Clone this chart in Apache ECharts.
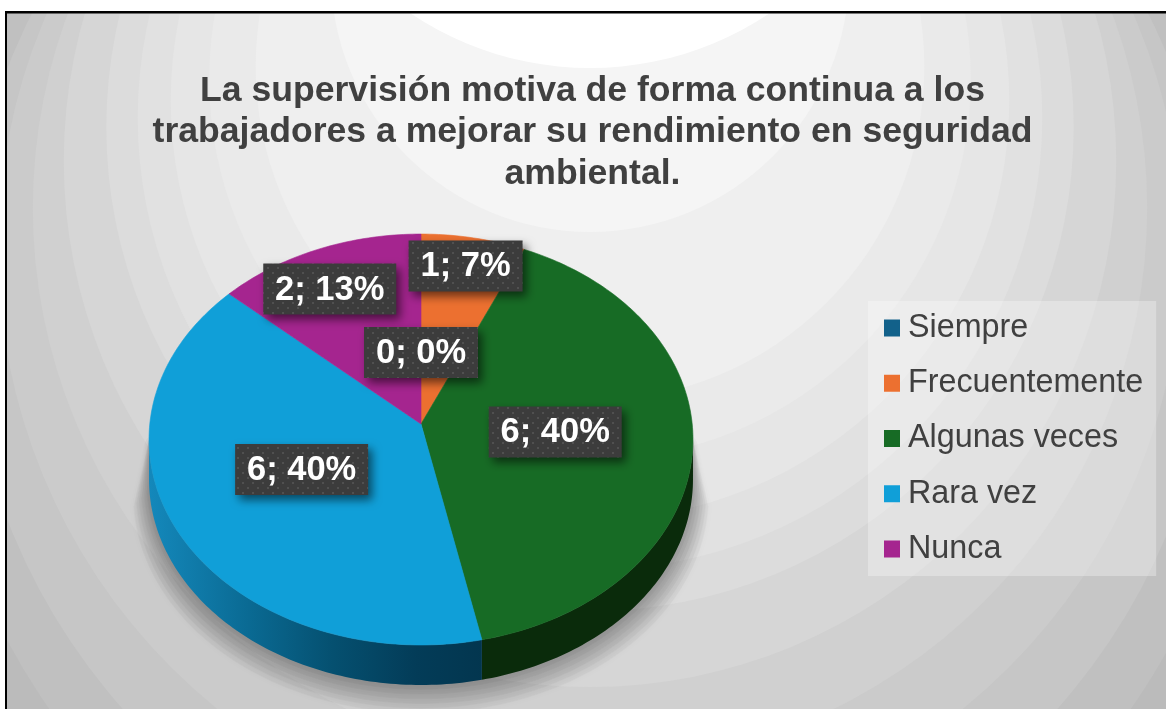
<!DOCTYPE html>
<html>
<head>
<meta charset="utf-8">
<style>html,body{margin:0;padding:0;background:#fff}#c{width:1166px;height:709px}</style>
<script src="https://cdn.jsdelivr.net/npm/echarts@6/dist/echarts.min.js"></script>
</head>
<body>
<div id="c"></div>
<script>
// ---- data ----
var categories = ['Siempre', 'Frecuentemente', 'Algunas veces', 'Rara vez', 'Nunca'];
var values = [0, 1, 6, 6, 2];
var chartTitle = 'La supervisión motiva de forma continua a los\ntrabajadores a mejorar su rendimiento en seguridad\nambiental.';
var sliceColors = ['#12618a', '#ec7030', '#176b25', '#109fd8', '#a5258f'];
var labelRadius = [0.36, 0.84, 0.495, 0.485, 0.78];
var labelTurn = [0, 0, -1.5, 3.2, -3];

// ---- tilted pie geometry (perspective projection of a flat disc) ----
var CX = 421, CY = 424, RX = 271.2, RY = 204.3, PERSP = 0.0755, DEPTH = 40;
var total = values.reduce(function (a, b) { return a + b; }, 0);
function project(deg, r) {
  var t = deg * Math.PI / 180, u = Math.sin(t) * r, v = Math.cos(t) * r, w = 1 + PERSP * v;
  return [CX + RX * u / w, CY - RY * v / w];
}
function sliceStart(i) {
  var s = 0;
  for (var k = 0; k < i; k++) s += values[k];
  return s / total * 360;
}
function rim(a0, a1, dy, r) {
  var pts = [], n = Math.max(1, Math.ceil(Math.abs(a1 - a0)));
  for (var i = 0; i <= n; i++) {
    var p = project(a0 + (a1 - a0) * i / n, r || 1);
    pts.push([p[0], p[1] + (dy || 0)]);
  }
  return pts;
}
var EDGE_R = Math.acos(-PERSP) * 180 / Math.PI, EDGE_L = 360 - EDGE_R;

var wallFills = {
  2: '#0a2b0b',
  3: new echarts.graphic.LinearGradient(149, 0, 483, 0, [
    { offset: 0, color: '#1488bb' }, { offset: 0.3, color: '#0a6a93' },
    { offset: 0.55, color: '#055070' }, { offset: 0.8, color: '#033c58' }, { offset: 1, color: '#03364f' }
  ], true)
};

function renderSlice(i) {
  return function (params, api) {
    var v = api.value(0), a0 = sliceStart(i), a1 = a0 + v / total * 360;
    if (!v) return { type: 'group', children: [] };
    var kids = [];
    var w0 = Math.max(a0, EDGE_R), w1 = Math.min(a1, EDGE_L);
    if (w1 > w0) {
      var top = rim(w0, w1, 0), bottom = rim(w1, w0, DEPTH);
      kids.push({ type: 'polygon', shape: { points: top.concat(bottom) },
        style: { fill: wallFills[i] || sliceColors[i] } });
    }
    kids.push({ type: 'polygon', shape: { points: [project(0, 0)].concat(rim(a0, a1, 0)) },
      style: { fill: sliceColors[i], stroke: sliceColors[i], lineWidth: 0.6 } });
    return { type: 'group', children: kids };
  };
}

// label plate texture
var tile = document.createElement('canvas');
tile.width = 10; tile.height = 10;
(function () {
  var g = tile.getContext('2d');
  g.fillStyle = '#3c3c3c'; g.fillRect(0, 0, 10, 10);
  g.fillStyle = '#505050';
  g.fillRect(2, 2, 2, 2); g.fillRect(7, 7, 2, 2);
})();
var measure = document.createElement('canvas').getContext('2d');
var LABEL_FONT = 'bold 34.5px "Liberation Sans", Arial, sans-serif';
measure.font = LABEL_FONT;

function renderLabel(params, api) {
  var i = params.dataIndex, v = api.value(0);
  var mid = sliceStart(i) + v / total * 180 + labelTurn[i];
  var p = project(mid, labelRadius[i]);
  var text = v + '; ' + Math.round(v / total * 100) + '%';
  var w = Math.round(measure.measureText(text).width) + 24, h = 51;
  return { type: 'group', children: [
    { type: 'rect', shape: { x: p[0] - w / 2, y: p[1] - h / 2, width: w, height: h },
      style: { fill: { image: tile, repeat: 'repeat' }, shadowBlur: 10, shadowOffsetX: 4, shadowOffsetY: 5, shadowColor: 'rgba(0,0,0,0.55)' } },
    { type: 'text', x: p[0], y: p[1] + 1,
      style: { text: text, font: LABEL_FONT, fill: '#ffffff', align: 'center', verticalAlign: 'middle' } }
  ] };
}

// ---- backdrop: banded radial wash (half width at the top edge, lowest point, colour) ----
var backdropHalf = [580, 558, 543, 522, 505, 470, 440, 410, 375, 330, 256, 180];
var backdropLow  = [990, 919, 841, 765, 687, 611, 570, 520, 460, 401, 232, 68];
var backdropTone = ['#c0c0c0', '#c6c6c6', '#cbcbcb', '#d0d0d0', '#d6d6d6', '#dcdcdc', '#e1e1e1', '#e6e6e6', '#eaeaea', '#efefef', '#f5f5f5', '#ffffff'];
var FX = 590, TOP = 13;
var backdrop = [{ type: 'rect', shape: { x: 0, y: 0, width: 1166, height: 709 }, style: { fill: '#bbbbbb' } }];
backdropHalf.forEach(function (h, i) {
  var B = backdropLow[i], c = (B + TOP - h * h / (B - TOP)) / 2;
  backdrop.push({ type: 'circle', shape: { cx: FX, cy: c, r: B - c }, style: { fill: backdropTone[i] } });
});
// soft cast shadow: stacked translucent layers growing away from the base
var shadowLayers = [];
[0, 1, 2, 3, 4, 5, 6].forEach(function (k) {
  var pts = [project(EDGE_R, 1)].concat(rim(EDGE_R + 3, EDGE_L - 3, DEPTH + 2.4 * k, 1 + 0.0095 * k), [project(EDGE_L, 1)]);
  shadowLayers.push({ type: 'polygon', shape: { points: pts },
    style: { fill: 'rgba(0,0,0,0.026)', shadowBlur: 7, shadowColor: '#000000' } });
});
var decor = backdrop.concat(shadowLayers, [
  { type: 'rect', shape: { x: 0, y: 0, width: 1166, height: 11 }, style: { fill: '#ffffff' } },
  { type: 'rect', shape: { x: 0, y: 0, width: 5, height: 709 }, style: { fill: '#ffffff' } },
  { type: 'rect', shape: { x: 5, y: 11, width: 1161, height: 2.5 }, style: { fill: '#000000' } },
  { type: 'rect', shape: { x: 5, y: 11, width: 2, height: 698 }, style: { fill: '#000000' } }
]);
decor.forEach(function (d) { d.silent = true; });

var series = categories.map(function (name, i) {
  return {
    type: 'custom', name: name, coordinateSystem: 'none', silent: true, animation: false,
    itemStyle: { color: sliceColors[i] },
    data: [[values[i]]], renderItem: renderSlice(i), z: 2
  };
});
series.push({
  type: 'custom', name: 'labels', coordinateSystem: 'none', silent: true, animation: false, z: 5,
  data: values.map(function (v) { return [v]; }), renderItem: renderLabel
});

var chart = echarts.init(document.getElementById('c'), null, { renderer: 'canvas' });
chart.setOption({
  animation: false,
  title: {
    text: chartTitle, left: 587.5, top: 65, textAlign: 'center',
    textStyle: { fontFamily: '"Liberation Sans", Arial, sans-serif', fontWeight: 'bold', fontSize: 35.6, lineHeight: 41.5, color: '#404040' }
  },
  legend: {
    data: categories, orient: 'vertical', left: 868, top: 301, padding: [10, 13, 10, 16],
    itemWidth: 16, itemHeight: 17, itemGap: 21.25, icon: 'rect', selectedMode: false,
    backgroundColor: 'rgba(255,255,255,0.3)',
    textStyle: { fontFamily: '"Liberation Sans", Arial, sans-serif', fontSize: 32.3, lineHeight: 34, padding: [0, 0, 0, 3], color: '#404040' }
  },
  graphic: { elements: decor },
  series: series
});
</script>
</body>
</html>
